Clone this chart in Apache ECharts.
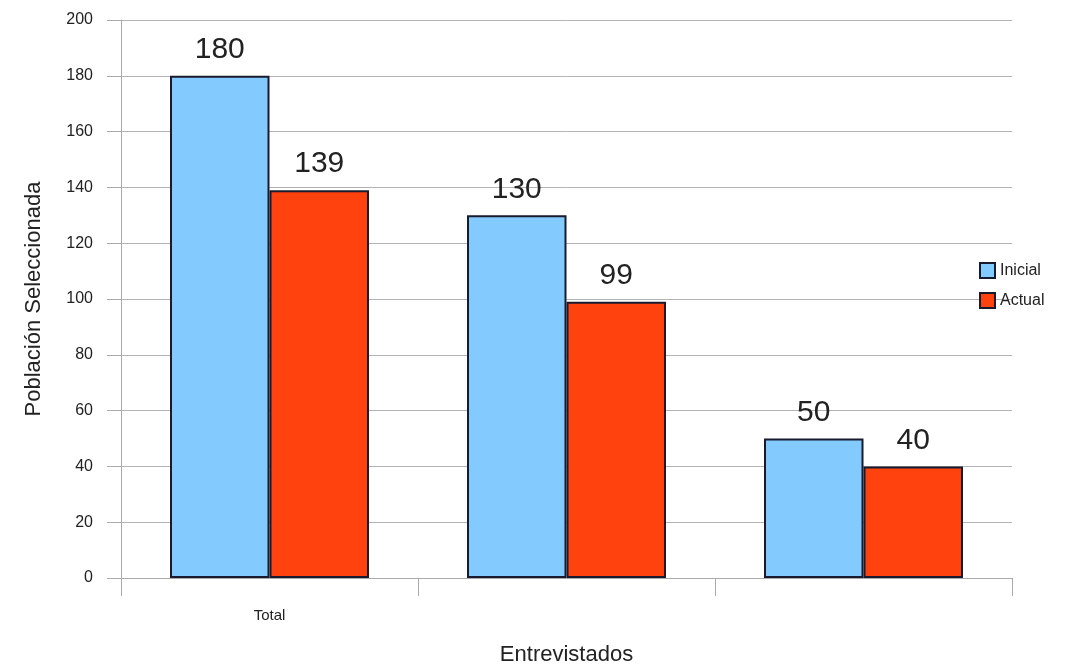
<!DOCTYPE html>
<html>
<head>
<meta charset="utf-8">
<script src="https://cdn.jsdelivr.net/npm/echarts@6/dist/echarts.min.js"></script>
<style>
	html, body { margin: 0; padding: 0; background: #fff; }
	#chart { width: 1091px; height: 670px; }
</style>
</head>
<body>
<div id="chart"></div>
<script>
var categories = ['Total', '', ''];
var inicial = [180, 130, 50];
var actual = [139, 99, 40];
var yTicks = { min: 0, max: 200, step: 20 };

var font = 'Liberation Sans, Arial, sans-serif';

function barSeries(name, data, color) {
	return {
		name: name,
		type: 'bar',
		data: data,
		barGap: '0%',
		barCategoryGap: '33%',
		itemStyle: {
			color: color,
			borderColor: '#1a1a2e',
			borderWidth: 2
		},
		label: {
			show: true,
			position: 'top',
			distance: 11,
			fontFamily: font,
			fontSize: 30,
			color: '#222'
		}
	};
}

var mychart = echarts.init(document.getElementById('chart'));
var option = {
	animation: false,
	backgroundColor: '#fff',
	grid: {
		left: 121,
		right: 79,
		top: 20,
		bottom: 92,
		outerBoundsMode: 'none'
	},
	legend: {
		orient: 'vertical',
		left: 974,
		top: 257,
		icon: 'rect',
		itemWidth: 15,
		itemHeight: 15,
		itemGap: 13,
		textStyle: { fontFamily: font, fontSize: 16, color: '#222' },
		data: ['Inicial', 'Actual']
	},
	xAxis: {
		type: 'category',
		data: categories,
		name: 'Entrevistados',
		nameLocation: 'middle',
		nameGap: 66,
		nameTextStyle: { fontFamily: font, fontSize: 22, color: '#222' },
		axisLine: { lineStyle: { color: '#aaa', width: 1 } },
		axisTick: { show: true, length: 18, interval: 0, lineStyle: { color: '#aaa' } },
		axisLabel: { fontFamily: font, fontSize: 15, color: '#222', margin: 30 }
	},
	yAxis: {
		type: 'value',
		min: yTicks.min,
		max: yTicks.max,
		interval: yTicks.step,
		name: 'Población Seleccionada',
		nameLocation: 'middle',
		nameGap: 76,
		nameTextStyle: { fontFamily: font, fontSize: 22, color: '#222' },
		axisLine: { show: true, lineStyle: { color: '#aaa', width: 1 } },
		axisTick: { show: true, length: 14, lineStyle: { color: '#aaa' } },
		axisLabel: { fontFamily: font, fontSize: 16, color: '#222', margin: 28 },
		splitLine: { lineStyle: { color: '#b3b3b3', width: 1 } }
	},
	series: [
		barSeries('Inicial', inicial, '#83caff'),
		barSeries('Actual', actual, '#ff420e')
	]
};
mychart.setOption(option);
</script>
</body>
</html>
